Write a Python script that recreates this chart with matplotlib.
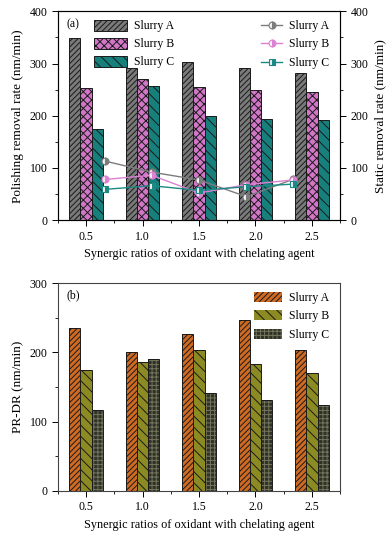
import numpy as np
import matplotlib
matplotlib.use("Agg")
from matplotlib import pyplot as plt
from matplotlib.ticker import MultipleLocator

ratios = [0.5, 1.0, 1.5, 2.0, 2.5]
tick_labels = ["0.5", "1.0", "1.5", "2.0", "2.5"]
series = ["Slurry A", "Slurry B", "Slurry C"]

# (a) polishing removal rate (bars)
polish_a = [348, 292, 302, 292, 282]
polish_b = [253, 271, 255, 250, 245]
polish_c = [175, 257, 200, 193, 192]

# (a) static removal rate (lines, right axis)
static_x = [0.67, 1.08, 1.5, 1.92, 2.33]
static_a = [113, 92, 77, 45, 78]
static_b = [78, 86, 52, 68, 77]
static_c = [59, 66, 57, 64, 69]

# (b) PR-DR
prdr_a = [235, 200, 227, 247, 203]
prdr_b = [175, 186, 204, 184, 171]
prdr_c = [117, 191, 142, 131, 124]

plt.rcParams["font.family"] = ["Liberation Serif", "DejaVu Serif"]
plt.rcParams["font.size"] = 8.5
plt.rcParams["hatch.linewidth"] = 0.7
plt.rcParams["axes.linewidth"] = 0.8

fig = plt.figure(figsize=(3.91, 5.37), dpi=100)
ax1 = fig.add_axes([0.148, 0.590, 0.722, 0.389])
ax2 = fig.add_axes([0.148, 0.0857, 0.722, 0.387])

w = 0.1
x = np.array(ratios)


def style_axis(ax, ymax):
    ax.set_xlim(0.25, 2.75)
    ax.set_ylim(0, ymax)
    ax.set_xticks(ratios)
    ax.set_xticklabels(tick_labels)
    ax.xaxis.set_minor_locator(MultipleLocator(0.25))
    ax.yaxis.set_major_locator(MultipleLocator(100))
    ax.yaxis.set_minor_locator(MultipleLocator(50))
    ax.tick_params(which="major", direction="out", length=4, width=0.7)
    ax.tick_params(which="minor", direction="out", length=2, width=0.6)
    for s in ax.spines.values():
        s.set_color("#444444")


# ---- (a)
top_styles = [("#7a7a7a", "//////"), ("#d276c8", "xxxx"), ("#17807c", "\\\\\\")]
for i, (vals, (fc, h)) in enumerate(zip([polish_a, polish_b, polish_c], top_styles)):
    ax1.bar(x + (i - 1) * w, vals, w, color=fc, hatch=h, edgecolor="#1a1a1a",
            linewidth=0.7, label=series[i])
style_axis(ax1, 400)
ax1.set_xlabel("Synergic ratios of oxidant with chelating agent", fontsize=8.8)
ax1.set_ylabel("Polishing removal rate (nm/min)", fontsize=9.5)
ax1.text(0.03, 0.94, "(a)", transform=ax1.transAxes, va="center", ha="left")
ax1.legend(loc="upper left", bbox_to_anchor=(0.09, 1.01), frameon=False,
           handlelength=2.8, handleheight=1.1, labelspacing=0.45,
           handletextpad=0.6)

ax1r = ax1.twinx()
line_styles = [("#7c7c7c", "o"), ("#dc82d4", "o"), ("#1b8a84", "s")]
for vals, (c, m), lab in zip([static_a, static_b, static_c], line_styles, series):
    ax1r.plot(static_x, vals, color=c, marker=m, markersize=5, linewidth=1.0,
              fillstyle="right", markerfacecoloralt="#f4f4f4",
              markeredgecolor=c, markeredgewidth=0.8, label=lab)
ax1r.set_ylim(0, 400)
ax1r.yaxis.set_major_locator(MultipleLocator(100))
ax1r.yaxis.set_minor_locator(MultipleLocator(50))
ax1r.tick_params(which="major", direction="out", length=4, width=0.7)
ax1r.tick_params(which="minor", direction="out", length=2, width=0.6)
ax1r.set_ylabel("Static removal rate (nm/min)", fontsize=9.5)
ax1r.legend(loc="upper right", bbox_to_anchor=(1.0, 1.01), frameon=False,
            handlelength=1.8, labelspacing=0.55, handletextpad=0.6)

# ---- (b)
bot_styles = [("#cf6a22", "//////", "#1a1a1a"), ("#8c8a22", "\\\\\\", "#1a1a1a"),
              ("#2f3226", "++++", "#75755e")]
for i, (vals, (fc, h, hc)) in enumerate(zip([prdr_a, prdr_b, prdr_c], bot_styles)):
    ax2.bar(x + (i - 1) * w, vals, w, color=fc, hatch=h, edgecolor=hc,
            linewidth=0, label=series[i])
    ax2.bar(x + (i - 1) * w, vals, w, facecolor="none", edgecolor="#1a1a1a",
            linewidth=0.7)
style_axis(ax2, 300)
ax2.set_xlabel("Synergic ratios of oxidant with chelating agent", fontsize=8.8)
ax2.set_ylabel("PR-DR (nm/min)", fontsize=9.5)
ax2.text(0.03, 0.94, "(b)", transform=ax2.transAxes, va="center", ha="left")
ax2.legend(loc="upper right", bbox_to_anchor=(1.0, 1.01), frameon=False,
           handlelength=2.4, handleheight=0.9, labelspacing=0.55,
           handletextpad=0.6)

fig.savefig("out.png", dpi=100)
